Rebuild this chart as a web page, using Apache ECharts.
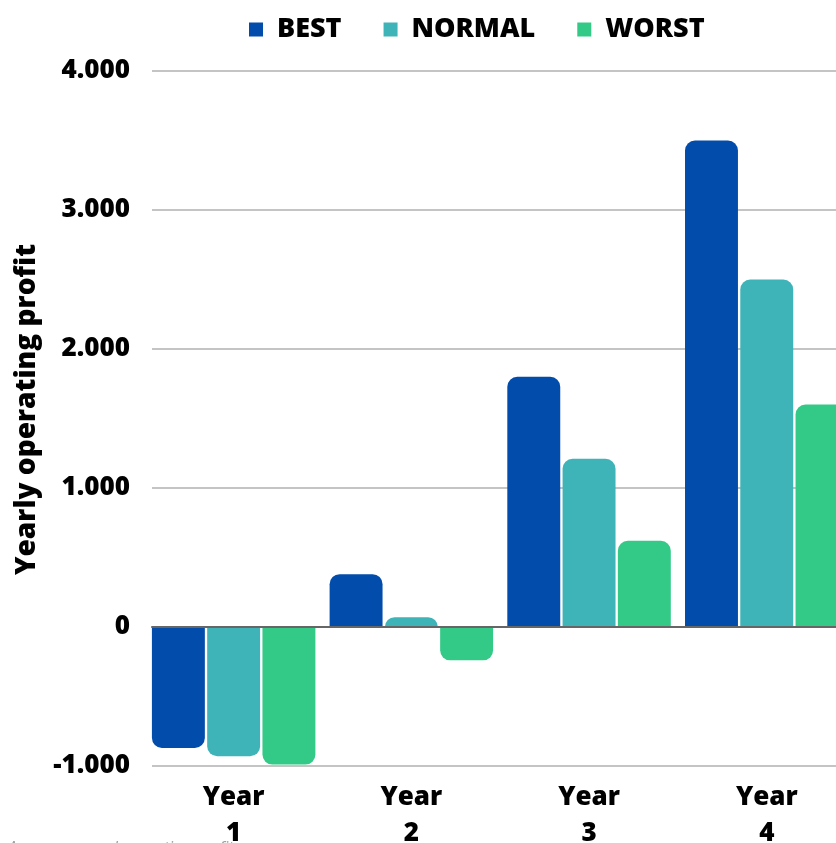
<!DOCTYPE html>
<html>
<head>
<meta charset="utf-8">
<title>Yearly operating profit</title>
<script src="https://cdn.jsdelivr.net/npm/echarts@6/dist/echarts.min.js"></script>
<style>
  html, body { margin: 0; padding: 0; background: #ffffff; }
  #chart { width: 836px; height: 843px; }
</style>
</head>
<body>
<div id="chart"></div>
<script>
// Scenario data: yearly operating profit per year
const years = ['Year\n1', 'Year\n2', 'Year\n3', 'Year\n4'];
const scenarioNames = ['BEST', 'NORMAL', 'WORST'];
const bestValues = [-870, 380, 1800, 3500];
const normalValues = [-930, 70, 1210, 2500];
const worstValues = [-990, -240, 620, 1600];
const yMin = -1000;
const yMax = 4000;
const yStep = 1000;

const colors = ['#024cab', '#3eb3b8', '#33c987'];
const FONT = '"Open Sans", "Noto Sans", sans-serif';
const HEAVY = 800;
const RADIUS = 10;

// thousands separator as a dot, e.g. 4.000 / -1.000
function fmt(v) {
  const s = String(Math.abs(v)).replace(/\B(?=(\d{3})+(?!\d))/g, '.');
  return (v < 0 ? '-' : '') + s;
}

// round the outer end of each bar (top for gains, bottom for losses)
function roundedBars(values) {
  return values.map(v => ({
    value: v,
    itemStyle: { borderRadius: v >= 0 ? [RADIUS, RADIUS, 0, 0] : [0, 0, RADIUS, RADIUS] }
  }));
}

const chart = echarts.init(document.getElementById('chart'), null, { renderer: 'canvas' });

const option = {
  animation: false,
  color: colors,
  legend: {
    data: scenarioNames,
    left: 244,
    top: 11,
    icon: 'rect',
    itemWidth: 14,
    itemHeight: 14,
    itemGap: 42,
    textStyle: {
      fontFamily: FONT,
      fontWeight: HEAVY,
      fontSize: 27,
      color: '#000',
      padding: [0, 0, 0, 9]
    }
  },
  grid: [
    // frame for the value scale, gridlines and zero line
    { left: 152, top: 71, bottom: 77, right: -30, containLabel: false, outerBoundsMode: 'none' },
    // frame for the grouped bars and year labels
    { left: 144.8, top: 71, bottom: 77, width: 710.8, containLabel: false, outerBoundsMode: 'none' }
  ],
  xAxis: [
    {
      gridIndex: 0,
      type: 'category',
      data: years,
      z: 10,
      axisLine: { show: true, onZero: true, lineStyle: { color: '#666666', width: 2 } },
      axisTick: { show: false },
      axisLabel: { show: false },
      splitLine: { show: false }
    },
    {
      gridIndex: 1,
      type: 'category',
      data: years,
      position: 'bottom',
      axisLine: { show: false, onZero: false },
      axisTick: { show: false },
      axisLabel: {
        fontFamily: FONT,
        fontWeight: HEAVY,
        fontSize: 26,
        color: '#000',
        lineHeight: 36,
        margin: 14,
        interval: 0
      },
      splitLine: { show: false }
    }
  ],
  yAxis: [
    {
      gridIndex: 0,
      type: 'value',
      min: yMin,
      max: yMax,
      interval: yStep,
      name: 'Yearly operating profit',
      nameLocation: 'middle',
      nameRotate: 90,
      nameGap: 111,
      nameTextStyle: {
        fontFamily: FONT,
        fontWeight: 900,
        fontSize: 28,
        color: '#000',
        padding: [0, 0, 0, 18]
      },
      axisLine: { show: false },
      axisTick: { show: false },
      axisLabel: {
        formatter: fmt,
        fontFamily: FONT,
        fontWeight: HEAVY,
        fontSize: 26,
        color: '#000',
        margin: 22
      },
      splitLine: { show: true, lineStyle: { color: '#c4c4c4', width: 2 } }
    },
    {
      gridIndex: 1,
      type: 'value',
      min: yMin,
      max: yMax,
      interval: yStep,
      show: false,
      splitLine: { show: false }
    }
  ],
  graphic: [
    {
      type: 'text',
      left: 8,
      top: 840,
      z: 0,
      style: {
        text: 'Average annual operating profit',
        fill: '#9e9e9e',
        font: 'italic 16px ' + FONT
      }
    }
  ],
  series: [
    {
      name: 'BEST',
      type: 'bar',
      xAxisIndex: 1,
      yAxisIndex: 1,
      barGap: '4.4%',
      barCategoryGap: '8%',
      data: roundedBars(bestValues)
    },
    {
      name: 'NORMAL',
      type: 'bar',
      xAxisIndex: 1,
      yAxisIndex: 1,
      barGap: '4.4%',
      barCategoryGap: '8%',
      data: roundedBars(normalValues)
    },
    {
      name: 'WORST',
      type: 'bar',
      xAxisIndex: 1,
      yAxisIndex: 1,
      barGap: '4.4%',
      barCategoryGap: '8%',
      data: roundedBars(worstValues)
    }
  ]
};

chart.setOption(option);
</script>
</body>
</html>
